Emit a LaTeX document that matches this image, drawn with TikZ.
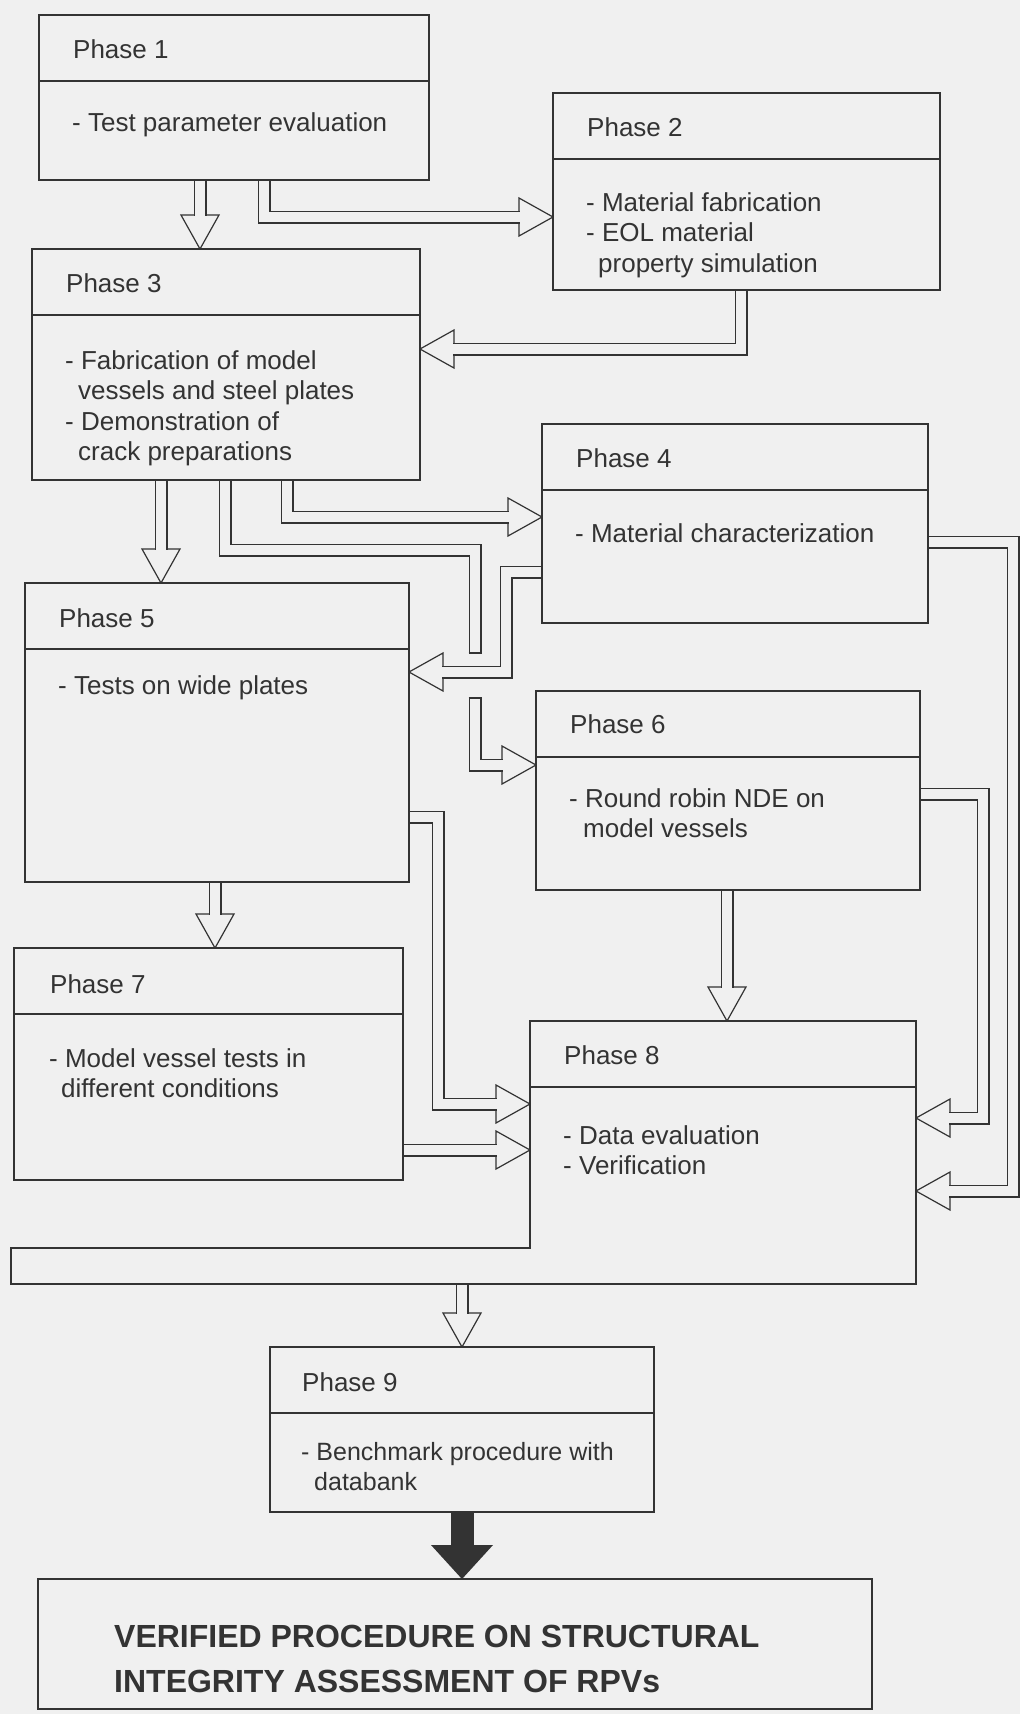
\documentclass[tikz,border=0pt]{standalone}
\usepackage{fontspec}
\setmainfont{Liberation Sans}
\usepackage{tikz}
\usetikzlibrary{decorations.markings}
\usetikzlibrary{backgrounds}
\definecolor{paper}{gray}{0.94}
\definecolor{ink}{gray}{0.2}
\tikzstyle{box} = [draw=ink, line width=1.3pt, fill=paper, inner sep=0pt, outer sep=0pt, anchor=north west]
\tikzstyle{divider} = [draw=ink, line width=1.3pt]
\tikzstyle{phasetitle} = [anchor=west, inner sep=0pt, text=ink, font=\fontsize{26}{30.5}\selectfont]
\tikzstyle{phasetext} = [anchor=north west, inner sep=0pt, align=left, text=ink, font=\fontsize{26}{30.5}\selectfont]
\tikzstyle{hollowhead} = [decorate, decoration={markings, mark=at position 1 with {\draw[draw=ink, fill=paper, line width=1.2pt, shorten >=0pt] (-34,-19) -- (0,0) -- (-34,19) -- cycle;}}]
\tikzstyle{hollow} = [preaction={hollowhead}, preaction={draw=ink, line width=13pt}, draw=paper, line width=10.6pt, shorten >=33pt]
\tikzstyle{shaft} = [preaction={draw=ink, line width=13pt}, draw=paper, line width=10.6pt]
\tikzstyle{shaftend} = [draw=ink, line width=1.2pt]
\tikzstyle{blockhead} = [decorate, decoration={markings, mark=at position 1 with {\fill[ink] (-34,-31) -- (0,0) -- (-34,31) -- cycle;}}]
\tikzstyle{blockarrow} = [preaction={blockhead}, draw=ink, line width=23pt, shorten >=33pt]

\begin{document}
\begin{tikzpicture}[x=1pt, y=-1pt]
  \begin{pgfonlayer}{background}
    \fill[paper] (0,0) rectangle (1020,1714);
  \end{pgfonlayer}
  \useasboundingbox (0,0) rectangle (1020,1714);

  % phase boxes
  \node[box, minimum width=390pt, minimum height=165pt] (p1) at (39,15) {};
  \draw[divider] ([yshift=-66pt]p1.north west) -- ([yshift=-66pt]p1.north east);
  \node[phasetitle] (p1t) at ([xshift=34pt, yshift=-34pt]p1.north west) {Phase 1};
  \node[phasetext] (p1b) at ([xshift=33pt, yshift=-97pt]p1.north west) {- Test parameter evaluation};

  \node[box, minimum width=387pt, minimum height=197pt] (p2) at (553,93) {};
  \draw[divider] ([yshift=-66pt]p2.north west) -- ([yshift=-66pt]p2.north east);
  \node[phasetitle] (p2t) at ([xshift=34pt, yshift=-34pt]p2.north west) {Phase 2};
  \node[phasetext] (p2b) at ([xshift=33pt, yshift=-99pt]p2.north west) {- Material fabrication\\- EOL material\\\hspace*{12pt}property simulation};

  \node[box, minimum width=388pt, minimum height=231pt] (p3) at (32,249) {};
  \draw[divider] ([yshift=-66pt]p3.north west) -- ([yshift=-66pt]p3.north east);
  \node[phasetitle] (p3t) at ([xshift=34pt, yshift=-34pt]p3.north west) {Phase 3};
  \node[phasetext] (p3b) at ([xshift=33pt, yshift=-101pt]p3.north west) {- Fabrication of model\\\hspace*{13pt}vessels and steel plates\\- Demonstration of\\\hspace*{13pt}crack preparations};

  \node[box, minimum width=386pt, minimum height=199pt] (p4) at (542,424) {};
  \draw[divider] ([yshift=-66pt]p4.north west) -- ([yshift=-66pt]p4.north east);
  \node[phasetitle] (p4t) at ([xshift=34pt, yshift=-34pt]p4.north west) {Phase 4};
  \node[phasetext] (p4b) at ([xshift=33pt, yshift=-99pt]p4.north west) {- Material characterization};

  \node[box, minimum width=384pt, minimum height=299pt] (p5) at (25,583) {};
  \draw[divider] ([yshift=-66pt]p5.north west) -- ([yshift=-66pt]p5.north east);
  \node[phasetitle] (p5t) at ([xshift=34pt, yshift=-35pt]p5.north west) {Phase 5};
  \node[phasetext] (p5b) at ([xshift=33pt, yshift=-92pt]p5.north west) {- Tests on wide plates};

  \node[box, minimum width=384pt, minimum height=199pt] (p6) at (536,691) {};
  \draw[divider] ([yshift=-66pt]p6.north west) -- ([yshift=-66pt]p6.north east);
  \node[phasetitle] (p6t) at ([xshift=34pt, yshift=-33pt]p6.north west) {Phase 6};
  \node[phasetext] (p6b) at ([xshift=33pt, yshift=-97pt]p6.north west) {- Round robin NDE on\\\hspace*{14pt}model vessels};

  \node[box, minimum width=389pt, minimum height=232pt] (p7) at (14,948) {};
  \draw[divider] ([yshift=-66pt]p7.north west) -- ([yshift=-66pt]p7.north east);
  \node[phasetitle] (p7t) at ([xshift=36pt, yshift=-36pt]p7.north west) {Phase 7};
  \node[phasetext] (p7b) at ([xshift=35pt, yshift=-100pt]p7.north west) {- Model vessel tests in\\\hspace*{12pt}different conditions};

  % phase 8 runs out into a strip at the bottom
  \node[inner sep=0pt, outer sep=0pt, anchor=north west, minimum width=386pt, minimum height=263pt] (p8) at (530,1021) {};
  \coordinate (p8bar) at (11,1248);
  \draw[box] (p8.north west) -- (p8.north east) -- (p8.south east) -- (p8.south -| p8bar) -- (p8bar) -- (p8bar -| p8.west) -- cycle;
  \draw[divider] ([yshift=-66pt]p8.north west) -- ([yshift=-66pt]p8.north east);
  \node[phasetitle] (p8t) at ([xshift=34pt, yshift=-34pt]p8.north west) {Phase 8};
  \node[phasetext] (p8b) at ([xshift=33pt, yshift=-104pt]p8.north west) {- Data evaluation\\- Verification};

  \node[box, minimum width=384pt, minimum height=165pt] (p9) at (270,1347) {};
  \draw[divider] ([yshift=-66pt]p9.north west) -- ([yshift=-66pt]p9.north east);
  \node[phasetitle] (p9t) at ([xshift=32pt, yshift=-35pt]p9.north west) {Phase 9};
  \node[phasetext, font=\fontsize{25}{30.5}\selectfont] (p9b) at ([xshift=31pt, yshift=-95pt]p9.north west) {- Benchmark procedure with\\\hspace*{13pt}databank};

  \node[box, minimum width=834pt, minimum height=130pt] (fin) at (38,1579) {};
  \node[phasetext, font=\bfseries\fontsize{32}{45}\selectfont] (fint) at ([xshift=76pt, yshift=-46pt]fin.north west) {VERIFIED PROCEDURE ON STRUCTURAL\\INTEGRITY ASSESSMENT OF RPVs};

  \coordinate (a6cut) at (475,653);
  \coordinate (a6back) at (475,698);

  \begin{pgfonlayer}{background}
    \draw[hollow] ([xshift=161pt]p1.south west) -- ([xshift=168pt]p3.north west);
    \draw[hollow] ([xshift=225pt]p1.south west) |- ([yshift=-124pt]p2.north west);
    \draw[hollow] ([xshift=188pt]p2.south west) |- ([yshift=-100pt]p3.north east);
    \draw[hollow] ([xshift=129pt]p3.south west) -- ([xshift=136pt]p5.north west);
    \draw[hollow] ([xshift=255pt]p3.south west) |- ([yshift=-93pt]p4.north west);
    % phase 3 to phase 6, broken where it passes under the phase 4 arrow
    \draw[shaft] ([xshift=193pt]p3.south west) -- ++(0,70) -| (a6cut);
    \draw[hollow] (a6back) |- ([yshift=-74pt]p6.north west);
    \draw[shaftend] ([xshift=-6.5pt]a6cut) -- ([xshift=6.5pt]a6cut);
    \draw[shaftend] ([xshift=-6.5pt]a6back) -- ([xshift=6.5pt]a6back);
    \draw[hollow] ([yshift=-148pt]p4.north west) -- ++(-36,0) |- ([yshift=-89pt]p5.north east);
    \draw[hollow] ([yshift=-118pt]p4.north east) -- ++(85,0) |- ([yshift=-170pt]p8.north east);
    \draw[hollow] ([yshift=-103pt]p6.north east) -- ++(63,0) |- ([yshift=-97pt]p8.north east);
    \draw[hollow] ([yshift=-234pt]p5.north east) -- ++(29,0) |- ([yshift=-83pt]p8.north west);
    \draw[hollow] ([yshift=-202pt]p7.north east) -- ([yshift=-129pt]p8.north west);
    \draw[hollow] ([xshift=191pt]p6.south west) -- ([xshift=197pt]p8.north west);
    \draw[hollow] ([xshift=190pt]p5.south west) -- ([xshift=201pt]p7.north west);
    \draw[hollow] (p9.north |- p8.south) -- (p9.north);
    \draw[blockarrow] (p9.south) -- (p9.south |- fin.north);
  \end{pgfonlayer}
\end{tikzpicture}
\end{document}
